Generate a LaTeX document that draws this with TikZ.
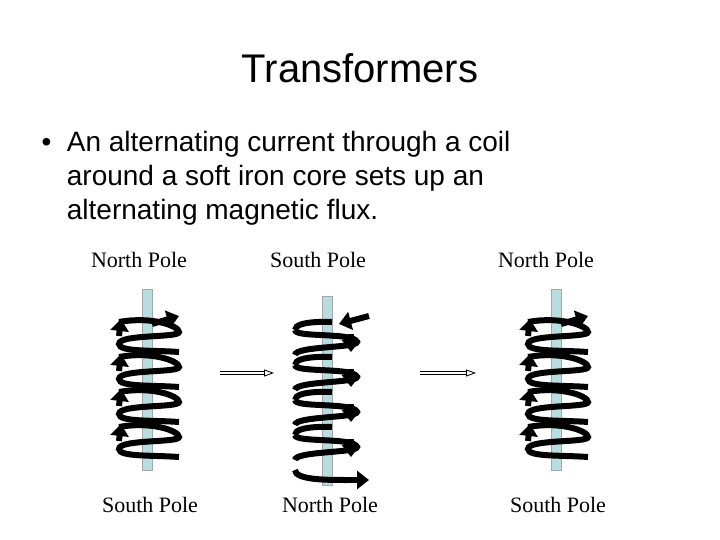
\documentclass[tikz,border=0pt]{standalone}
\usepackage{fontspec}
\setmainfont{Liberation Serif}
\newfontfamily\arialf{Liberation Sans}
\usetikzlibrary{arrows.meta}
\definecolor{rodc}{RGB}{184,221,224}
\begin{document}
\begin{tikzpicture}[x=1pt,y=-1pt,
  rod/.style={fill=rodc,draw=gray!70,line width=0.8pt},
  wire/.style={line width=6pt,black},
  arr/.style={wire,-{Triangle[length=12pt,width=18pt]}},
  pole/.style={font=\fontsize{22}{24}\selectfont},
  hollow/.style={double=white,double distance=2pt,line width=0.8pt,-{Triangle[open,length=10pt,width=7pt]}}]
\useasboundingbox (0,0) rectangle (720,540);
\node[font=\arialf\fontsize{40}{44}\selectfont] (title) at (360,68) {Transformers};
\node[font=\arialf\fontsize{28}{34}\selectfont,anchor=north west,align=left] (bul) at (38,128)
 {\textbullet\ \ An alternating current through a coil\\
 \phantom{\textbullet\ \ }around a soft iron core sets up an\\
 \phantom{\textbullet\ \ }alternating magnetic flux.};
\node[pole] (n1) at (139,260) {North Pole};
\node[pole] (s2) at (318,260) {South Pole};
\node[pole] (n3) at (546,260) {North Pole};
\node[pole] (s1) at (150,505) {South Pole};
\node[pole] (n2) at (330,505) {North Pole};
\node[pole] (s3) at (558,505) {South Pole};
\foreach \cx/\yt/\yb in {147/289/470, 327/296/485, 556/289/470}{
  \draw[rod] (\cx-5,\yt) rectangle (\cx+5,\yb);
}
\foreach \cx/\yo in {147/322,556/322}{
  \foreach \i in {0,1,2,3}{
    \draw[wire] (\cx-28,\yo+35*\i) .. controls (\cx+5,\yo+35*\i-6) and (\cx+32,\yo+35*\i+4) .. (\cx+32,\yo+35*\i+10)
       .. controls (\cx+32,\yo+35*\i+16) and (\cx-28,\yo+35*\i+12) .. (\cx-28,\yo+35*\i+22)
       .. controls (\cx-28,\yo+35*\i+30) and (\cx+5,\yo+35*\i+28) .. (\cx+32,\yo+35*\i+30);
    \draw[arr] (\cx-28,\yo+35*\i+14) -- (\cx-26,\yo+35*\i-3);
  }
  \draw[arr] (\cx+5,\yo+2) -- (\cx+32,\yo-6);
}
\foreach \cx/\yo in {327/330}{
  \foreach \i in {0,1,2,3}{
    \draw[wire] (\cx-32,\yo+35*\i) .. controls (\cx-32,\yo+35*\i-10) and (\cx+5,\yo+35*\i-8) .. (\cx+5,\yo+35*\i-8)
       (\cx-32,\yo+35*\i) .. controls (\cx-32,\yo+35*\i+8) and (\cx+27,\yo+35*\i+2) .. (\cx+30,\yo+35*\i+12)
       .. controls (\cx+30,\yo+35*\i+18) and (\cx-32,\yo+35*\i+16) .. (\cx-32,\yo+35*\i+25);
    \draw[arr] (\cx+24,\yo+35*\i+4) -- (\cx+24,\yo+35*\i+22);
  }
  \draw[wire] (\cx-32,\yo+140) .. controls (\cx-32,\yo+150) and (\cx,\yo+150) .. (\cx+20,\yo+150);
  \draw[arr] (\cx+10,\yo+150) -- (\cx+42,\yo+150);
  \draw[arr] (\cx+42,\yo-14) -- (\cx+12,\yo-6);
}
\coordinate (a1) at (220,373); \coordinate (b1) at (274,373);
\coordinate (a2) at (420,373); \coordinate (b2) at (476,373);
\draw[hollow] (a1) -- (b1);
\draw[hollow] (a2) -- (b2);
\end{tikzpicture}
\end{document}
